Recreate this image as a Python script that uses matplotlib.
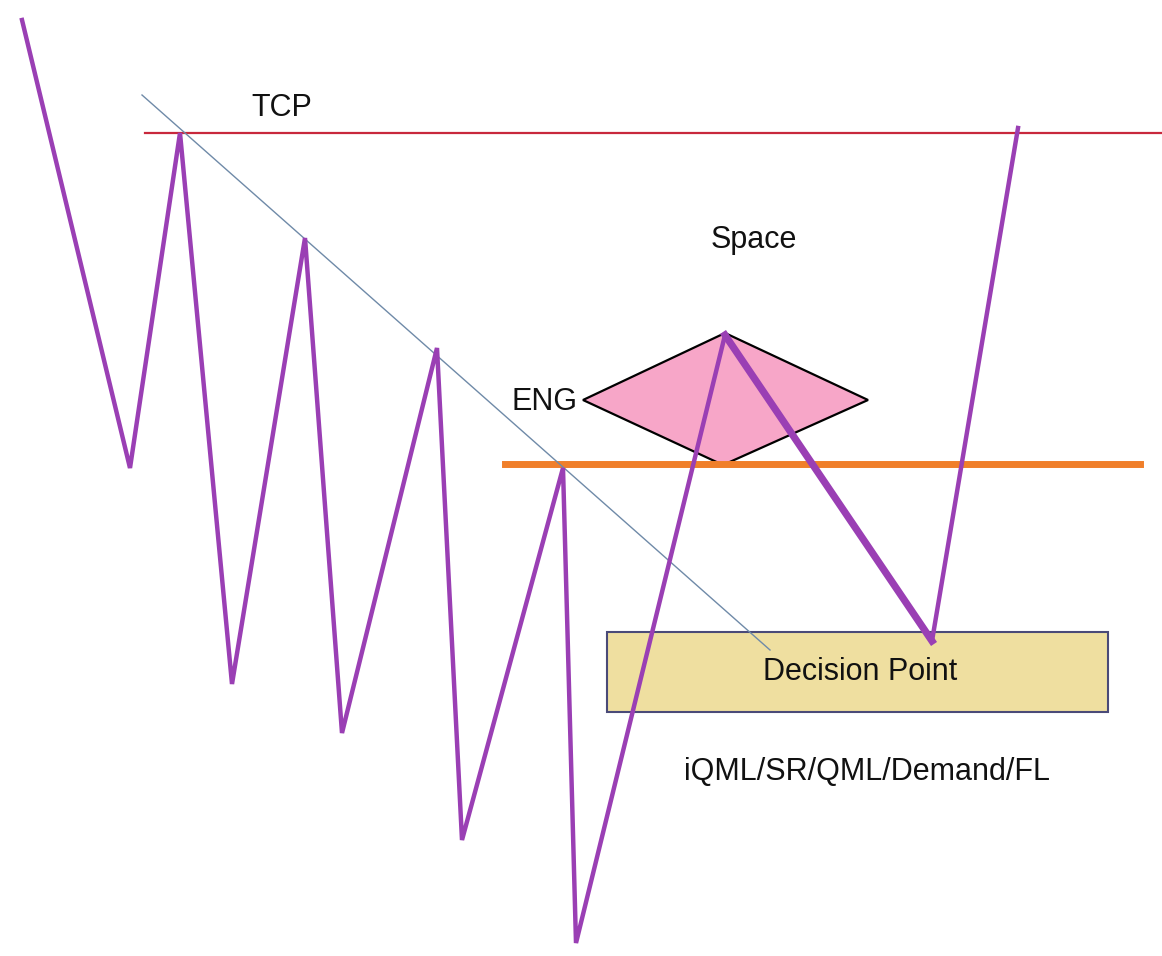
import matplotlib.pyplot as plt
from matplotlib.patches import Polygon, Rectangle

# Price swing (pixel-like coordinates, y grows downward)
swing_x = [22, 130, 180, 232, 305, 342, 437, 462, 563, 576, 725, 932, 1018]
swing_y = [20, 468, 133, 684, 238, 733, 348, 840, 468, 943, 335, 641, 128]

tcp_y = 133
eng_y = 464
trend_x = [142, 770]
trend_y = [95, 650]

diamond_x = [583, 725, 868, 723]
diamond_y = [400, 333, 400, 465]

box_x = [607, 1108]
box_y = [632, 712]

FONT = ['Liberation Sans Narrow', 'Liberation Sans', 'DejaVu Sans']

fig = plt.figure(figsize=(11.62, 9.56), dpi=100)
ax = fig.add_axes([0, 0, 1, 1])
ax.set_xlim(0, 1162)
ax.set_ylim(956, 0)
ax.axis('off')

# decision box
ax.add_patch(Rectangle((box_x[0], box_y[0]), box_x[1] - box_x[0], box_y[1] - box_y[0],
                       facecolor='#efdfa0', edgecolor='#4a4a78', lw=1.5, zorder=1))

# ENG diamond
ax.add_patch(Polygon(list(zip(diamond_x, diamond_y)), closed=True,
                     facecolor='#f7a6c8', edgecolor='black', lw=1.6, zorder=2))

# horizontal lines
ax.plot([145, 1162], [tcp_y, tcp_y], color='#c8283c', lw=1.6, zorder=3)
ax.plot([505, 1140], [eng_y, eng_y], color='#f07f2a', lw=5, zorder=3)

# trendline
ax.plot(trend_x, trend_y, color='#6f8aa8', lw=1, zorder=4)

# zigzag
ax.plot(swing_x[:11], swing_y[:11], color='#9a3fb4', lw=3.2, zorder=5,
        solid_joinstyle='miter')
ax.plot(swing_x[10:12], swing_y[10:12], color='#9a3fb4', lw=5.2, zorder=5)
ax.plot(swing_x[11:], swing_y[11:], color='#9a3fb4', lw=3.2, zorder=5)

# labels
ax.text(282, 108, 'TCP', fontsize=22, family=FONT, ha='center', va='center', color='#111111')
ax.text(754, 240, 'Space', fontsize=22, family=FONT, ha='center', va='center', color='#111111')
ax.text(577, 402, 'ENG', fontsize=22, family=FONT, ha='right', va='center', color='#111111')
ax.text(860, 672, 'Decision Point', fontsize=22, family=FONT, ha='center', va='center',
        color='#111111', zorder=6)
ax.text(867, 772, 'iQML/SR/QML/Demand/FL', fontsize=22, family=FONT, ha='center',
        va='center', color='#111111')

fig.savefig('out.png', dpi=100, facecolor='white')
